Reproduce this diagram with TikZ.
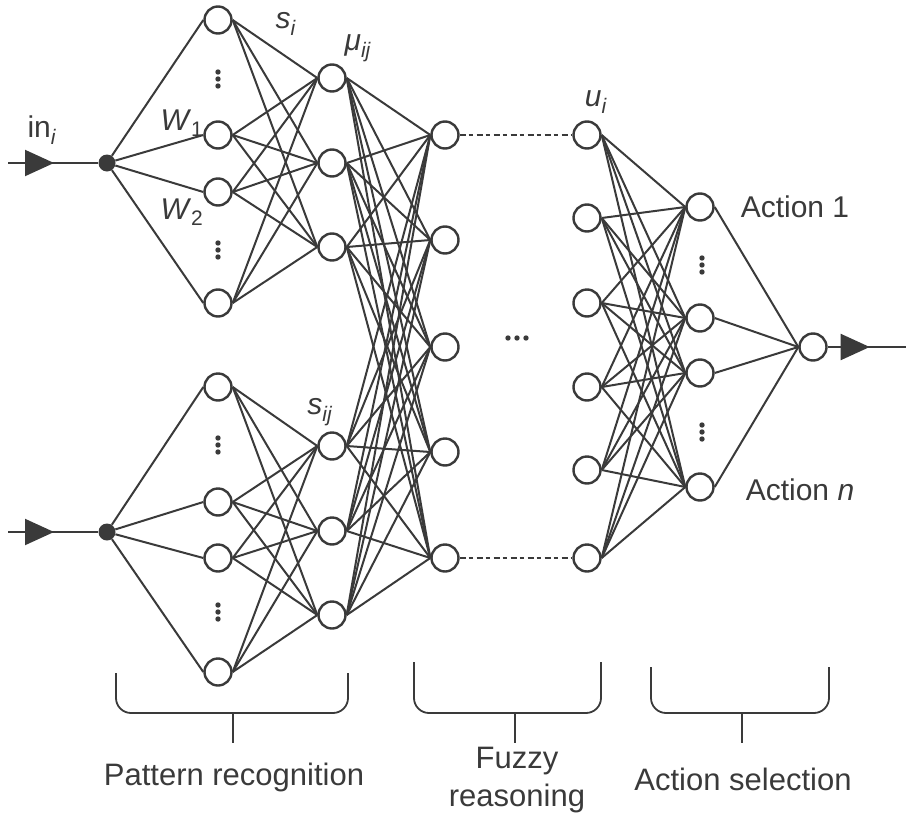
\documentclass[tikz,border=0pt]{standalone}
\usepackage{fontspec}
\setmainfont{Liberation Sans}
\usetikzlibrary{arrows.meta,decorations.markings}

\begin{document}
\begin{tikzpicture}[x=1pt,y=-1pt,
	neuron/.style={circle,draw=netgray,fill=white,line width=2.4pt,minimum size=27pt,inner sep=0pt},
	input dot/.style={circle,fill=netgray,minimum size=17pt,inner sep=0pt},
	link/.style={draw=netgray,line width=2pt},
	gap link/.style={draw=netgray,line width=2pt,dash pattern=on 6pt off 3pt on 4pt off 4pt},
	mid arrow/.style={postaction={decorate},decoration={markings,
		mark=at position #1 with {\arrow{Triangle[length=29pt,width=26pt]}}}},
	brace/.style={draw=netgray,line width=1.8pt,rounded corners=15pt},
	lbl/.style={text=netgray,font=\fontsize{30}{34}\selectfont,inner sep=0pt},
	caption/.style={text=netgray,font=\fontsize{31}{38}\selectfont,inner sep=0pt,align=center}]

	\definecolor{netgray}{RGB}{58,58,58}

	\useasboundingbox (0,0) rectangle (906,817);

	\coordinate (src1) at (8,163);
	\coordinate (src2) at (8,532);
	\coordinate (sink) at (906,347);

	\draw (107,163) node[input dot] (in1) {};
	\draw (107,532) node[input dot] (in2) {};

	\draw (218,20)  node[neuron] (p1) {};
	\draw (218,135) node[neuron] (p2) {};
	\draw (218,192) node[neuron] (p3) {};
	\draw (218,303) node[neuron] (p4) {};
	\draw (218,387) node[neuron] (q1) {};
	\draw (218,502) node[neuron] (q2) {};
	\draw (218,558) node[neuron] (q3) {};
	\draw (218,672) node[neuron] (q4) {};

	\draw (332,78)  node[neuron] (m1) {};
	\draw (332,163) node[neuron] (m2) {};
	\draw (332,247) node[neuron] (m3) {};
	\draw (332,446) node[neuron] (m4) {};
	\draw (332,531) node[neuron] (m5) {};
	\draw (332,615) node[neuron] (m6) {};

	\draw (445,135) node[neuron] (r1) {};
	\draw (445,240) node[neuron] (r2) {};
	\draw (445,347) node[neuron] (r3) {};
	\draw (445,452) node[neuron] (r4) {};
	\draw (445,558) node[neuron] (r5) {};

	\draw (587,135) node[neuron] (u1) {};
	\draw (587,218) node[neuron] (u2) {};
	\draw (587,303) node[neuron] (u3) {};
	\draw (587,387) node[neuron] (u4) {};
	\draw (587,470) node[neuron] (u5) {};
	\draw (587,558) node[neuron] (u6) {};

	\draw (700,207) node[neuron] (a1) {};
	\draw (700,318) node[neuron] (a2) {};
	\draw (700,373) node[neuron] (a3) {};
	\draw (700,487) node[neuron] (a4) {};

	\draw (813,347) node[neuron] (out) {};

	\draw[link,mid arrow=46pt] (src1) -- (in1);
	\draw[link,mid arrow=46pt] (src2) -- (in2);
	\draw[link,mid arrow=42pt] (out) -- (sink);

	\foreach \i in {1,...,4} {
		\draw[link] (in1) -- (p\i.west);
		\draw[link] (in2) -- (q\i.west);
		\foreach \j in {1,2,3} \draw[link] (p\i.east) -- (m\j.west);
		\foreach \j in {4,5,6} \draw[link] (q\i.east) -- (m\j.west);
		\draw[link] (a\i.east) -- (out.west);
	}
	\foreach \i in {1,...,6} {
		\foreach \j in {1,...,5} \draw[link] (m\i.east) -- (r\j.west);
		\foreach \j in {1,...,4} \draw[link] (u\i.east) -- (a\j.west);
	}
	\draw[gap link] (r1.east) -- (u1.west);
	\draw[gap link] (r5.east) -- (u6.west);

	\foreach \x/\y in {218/79,218/250,218/445,218/612,702/265,702/432}
		\foreach \d in {-7,0,7} \fill[netgray] (\x,\y+\d) circle (2.7pt);
	\foreach \d in {-9,0,9} \fill[netgray] (517+\d,338) circle (2.7pt);

	\node[lbl] (lin) at (42,130) {in\textsubscript{\textit{i}}};
	\node[lbl] (lw1) at (182,123) {\textit{W}\textsubscript{1}};
	\node[lbl] (lw2) at (182,212) {\textit{W}\textsubscript{2}};
	\node[lbl] (lsi) at (286,24) {\textit{s}\textsubscript{\textit{i}}};
	\node[lbl] (lmu) at (358,48) {\textit{μ}\textsubscript{\textit{ij}}};
	\node[lbl] (lsij) at (320,412) {\textit{s}\textsubscript{\textit{ij}}};
	\node[lbl] (lui) at (596,102) {\textit{u}\textsubscript{\textit{i}}};
	\node[lbl] (lact1) at (795,207) {Action 1};
	\node[lbl] (lactn) at (800,490) {Action \textit{n}};

	\draw[brace] (116,673) -- (116,713) -- (348,713) -- (348,673);
	\draw[brace] (414,662) -- (414,713) -- (601,713) -- (601,662);
	\draw[brace] (651,667) -- (651,713) -- (829,713) -- (829,667);
	\draw[netgray,line width=1.8pt] (233,713) -- (233,743);
	\draw[netgray,line width=1.8pt] (515,713) -- (515,743);
	\draw[netgray,line width=1.8pt] (742,713) -- (742,743);

	\node[caption] (pat) at (234,777) {Pattern recognition};
	\node[caption] (fuz) at (517,780) {Fuzzy\\reasoning};
	\node[caption] (act) at (743,779) {Action selection};

\end{tikzpicture}
\end{document}
